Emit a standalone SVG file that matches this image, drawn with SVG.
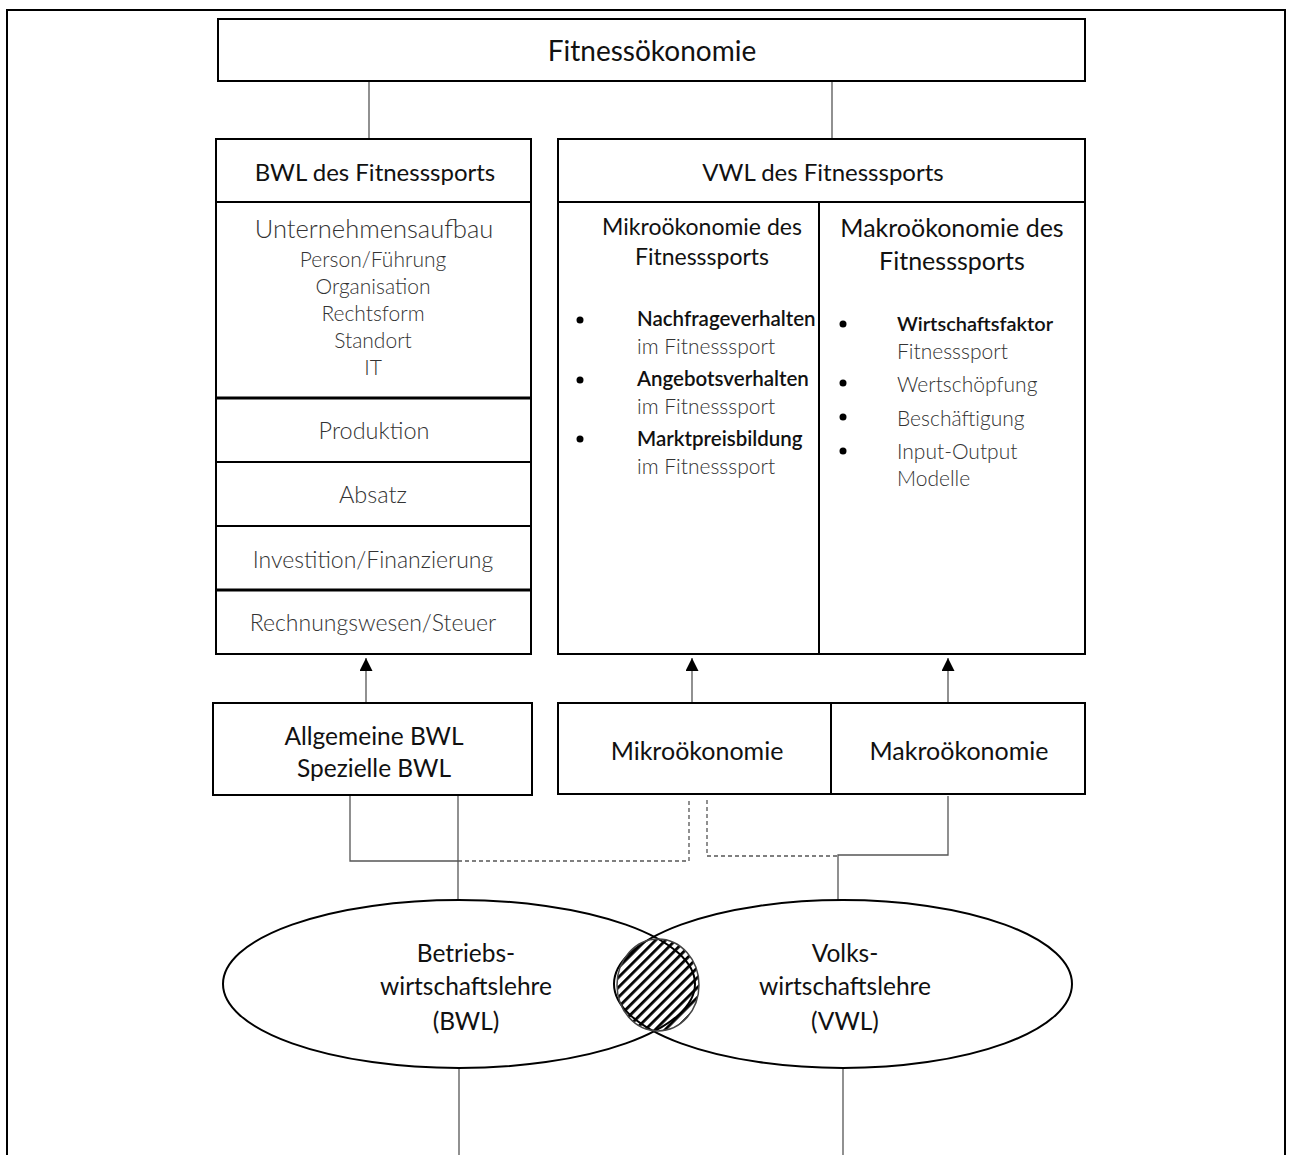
<svg xmlns="http://www.w3.org/2000/svg" width="1293" height="1155" viewBox="0 0 1293 1155">
<defs>
<style>
.box{fill:#fff;stroke:#000;stroke-width:2}
.sep{stroke:#000;stroke-width:2}
.sep3{stroke:#000;stroke-width:3}
.con{stroke:#555;stroke-width:1.3;fill:none}
.dash{stroke:#555;stroke-width:1.3;fill:none;stroke-dasharray:4 3}
.t{font-family:Lato,"Open Sans","Liberation Sans",sans-serif;text-anchor:middle;dominant-baseline:central}
.k{fill:#111;font-size:24px}
.g{fill:#333;font-weight:300}
.l{text-anchor:start}
.b{fill:#111;font-weight:600}
.ell{fill:none;stroke:#000;stroke-width:2}
</style>
<marker id="arr" viewBox="0 0 10 10" refX="10" refY="5" markerWidth="13" markerHeight="13" markerUnits="userSpaceOnUse" orient="auto">
<path d="M0,0 L10,5 L0,10 z" fill="#000"/>
</marker>
<pattern id="hatch" patternUnits="userSpaceOnUse" width="10" height="7" patternTransform="rotate(-45)">
<rect x="0" y="0" width="10" height="2.8" fill="#000"/>
</pattern>
</defs>
<rect x="7" y="10" width="1278" height="1170" fill="#fff" stroke="#000" stroke-width="2"/>

<g id="connectors">
<line class="con" x1="369" y1="81" x2="369" y2="139"/>
<line class="con" x1="832" y1="81" x2="832" y2="139"/>
<line class="con" x1="366" y1="703" x2="366" y2="658" marker-end="url(#arr)"/>
<line class="con" x1="692" y1="703" x2="692" y2="658" marker-end="url(#arr)"/>
<line class="con" x1="948" y1="703" x2="948" y2="658" marker-end="url(#arr)"/>
<polyline class="con" points="350,795 350,861 458,861"/>
<line class="con" x1="458" y1="795" x2="458" y2="900"/>
<polyline class="dash" points="458,861 689,861 689,800"/>
<polyline class="dash" points="707,800 707,856 838,856"/>
<polyline class="con" points="838,900 838,855 948,855 948,796"/>
<line class="con" x1="459" y1="1068" x2="459" y2="1155"/>
<line class="con" x1="843" y1="1068" x2="843" y2="1155"/>
</g>

<g id="fitnessoekonomie">
<rect class="box" x="218" y="19" width="867" height="62"/>
<text class="t k" x="652" y="50" style="font-size:28px">Fitnessökonomie</text>
</g>

<g id="bwl-fitness">
<rect class="box" x="216" y="139" width="315" height="515"/>
<line class="sep" x1="216" y1="202" x2="531" y2="202"/>
<line class="sep3" x1="216" y1="398" x2="531" y2="398"/>
<line class="sep" x1="216" y1="462" x2="531" y2="462"/>
<line class="sep" x1="216" y1="526" x2="531" y2="526"/>
<line class="sep3" x1="216" y1="590" x2="531" y2="590"/>
<text class="t k" x="375" y="171">BWL des Fitnesssports</text>
<text class="t g" x="374" y="228" style="font-size:25.5px">Unternehmensaufbau</text>
<text class="t g" x="373" y="258" style="font-size:21px">Person/Führung</text>
<text class="t g" x="373" y="285" style="font-size:21px">Organisation</text>
<text class="t g" x="373" y="312" style="font-size:21px">Rechtsform</text>
<text class="t g" x="373" y="339" style="font-size:21px">Standort</text>
<text class="t g" x="373" y="366" style="font-size:21px">IT</text>
<text class="t g" x="374" y="430" style="font-size:23.5px">Produktion</text>
<text class="t g" x="373" y="494" style="font-size:23.5px">Absatz</text>
<text class="t g" x="373" y="559" style="font-size:23px">Investition/Finanzierung</text>
<text class="t g" x="373" y="622" style="font-size:23px">Rechnungswesen/Steuer</text>
</g>

<g id="vwl-fitness">
<rect class="box" x="558" y="139" width="527" height="515"/>
<line class="sep" x1="558" y1="202" x2="1085" y2="202"/>
<line class="sep" x1="819" y1="202" x2="819" y2="654"/>
<text class="t k" x="823" y="171">VWL des Fitnesssports</text>
</g>

<g id="mikro-fitness">
<text class="t k" x="702" y="226" style="font-size:23px">Mikroökonomie des</text>
<text class="t k" x="702" y="256" style="font-size:23px">Fitnesssports</text>
<circle cx="580" cy="320" r="3.5" fill="#000"/>
<circle cx="580" cy="380" r="3.5" fill="#000"/>
<circle cx="580" cy="439" r="3.5" fill="#000"/>
<text class="t l b" x="637" y="318" style="font-size:20.5px">Nachfrageverhalten</text>
<text class="t l g" x="637" y="345" style="font-size:21px">im Fitnesssport</text>
<text class="t l b" x="637" y="378" style="font-size:20.5px">Angebotsverhalten</text>
<text class="t l g" x="637" y="405" style="font-size:21px">im Fitnesssport</text>
<text class="t l b" x="637" y="438" style="font-size:20.5px">Marktpreisbildung</text>
<text class="t l g" x="637" y="465" style="font-size:21px">im Fitnesssport</text>
</g>

<g id="makro-fitness">
<text class="t k" x="952" y="227" style="font-size:25px">Makroökonomie des</text>
<text class="t k" x="952" y="260" style="font-size:25px">Fitnesssports</text>
<circle cx="843" cy="324" r="3.5" fill="#000"/>
<circle cx="843" cy="383" r="3.5" fill="#000"/>
<circle cx="843" cy="417" r="3.5" fill="#000"/>
<circle cx="843" cy="451" r="3.5" fill="#000"/>
<text class="t l b" x="897" y="323" style="font-size:20px">Wirtschaftsfaktor</text>
<text class="t l g" x="897" y="350" style="font-size:21px">Fitnesssport</text>
<text class="t l g" x="897" y="383" style="font-size:21px">Wertschöpfung</text>
<text class="t l g" x="897" y="417" style="font-size:21px">Beschäftigung</text>
<text class="t l g" x="897" y="450" style="font-size:21px">Input-Output</text>
<text class="t l g" x="897" y="477" style="font-size:21px">Modelle</text>
</g>

<g id="allgemeine-bwl">
<rect class="box" x="213" y="703" width="319" height="92"/>
<text class="t k" x="374" y="735" style="font-size:24.5px">Allgemeine BWL</text>
<text class="t k" x="374" y="767" style="font-size:24.5px">Spezielle BWL</text>
</g>

<g id="mikrooekonomie">
<rect class="box" x="558" y="703" width="273" height="91"/>
<text class="t k" x="697" y="750" style="font-size:25px">Mikroökonomie</text>
</g>

<g id="makrooekonomie">
<rect class="box" x="831" y="703" width="254" height="91"/>
<text class="t k" x="959" y="750" style="font-size:25px">Makroökonomie</text>
</g>

<g id="bwl">
<ellipse class="ell" cx="459" cy="984" rx="236" ry="84"/>
<text class="t k" x="466" y="952" style="font-size:24.5px">Betriebs-</text>
<text class="t k" x="466" y="985" style="font-size:24.5px">wirtschaftslehre</text>
<text class="t k" x="466" y="1020" style="font-size:24.5px">(BWL)</text>
</g>

<g id="vwl">
<ellipse class="ell" cx="843" cy="984" rx="229" ry="84"/>
<text class="t k" x="845" y="952" style="font-size:24.5px">Volks-</text>
<text class="t k" x="845" y="985" style="font-size:24.5px">wirtschaftslehre</text>
<text class="t k" x="845" y="1020" style="font-size:24.5px">(VWL)</text>
</g>

<g id="schnittmenge">
<ellipse cx="658" cy="985" rx="41" ry="46" fill="url(#hatch)" stroke="#444" stroke-width="1.5"/>
</g>
</svg>
